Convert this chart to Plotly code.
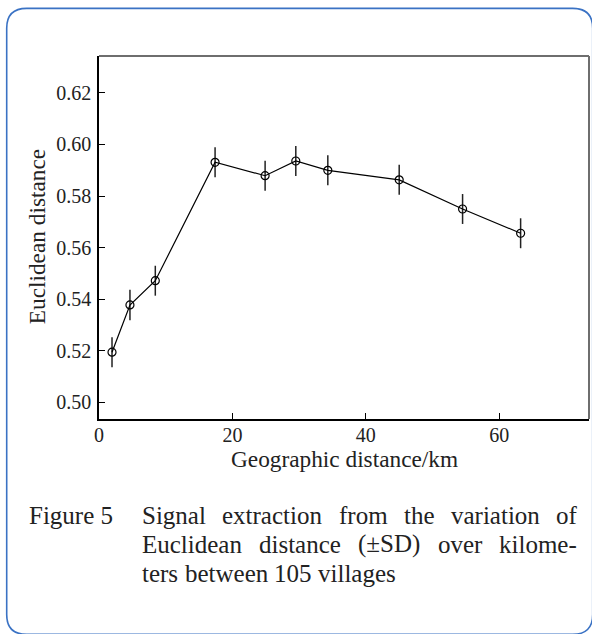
import plotly.graph_objects as go

# ---------------- data ----------------
distance_km = [1.95, 4.64, 8.44, 17.4, 24.9, 29.5, 34.3, 45.0, 54.5, 63.2]
euclid_dist = [0.5195, 0.5378, 0.5472, 0.5931, 0.5879, 0.5936, 0.5900, 0.5863, 0.5750, 0.5656]
euclid_sd = [0.0058, 0.0059, 0.0058, 0.0058, 0.0058, 0.0058, 0.0058, 0.0058, 0.0058, 0.0058]

x_ticks = [0, 20, 40, 60]
x_tick_labels = ["0", "20", "40", "60"]
y_ticks = [0.50, 0.52, 0.54, 0.56, 0.58, 0.60, 0.62]
y_tick_labels = ["0.50", "0.52", "0.54", "0.56", "0.58", "0.60", "0.62"]

x_title = "Geographic distance/km"
y_title = "Euclidean distance"
caption_label = "Figure 5"
caption_lines = [
    "Signal extraction from the variation of",
    "Euclidean distance (\u00b1SD) over kilome-",
    "ters between 105 villages",
]

# ---------------- layout geometry (pixels) ----------------
W, H = 592, 634
PL, PR, PT, PB = 99.3, 589.3, 55.7, 419.3
FONT = "Liberation Serif, Times New Roman, serif"
TXT = "#222222"


def px(xp):
    return (xp - PL) / (PR - PL)


def py(yp):
    return (PB - yp) / (PB - PT)


# Times / Liberation Serif advance widths (em)
TW = {
    'a': .444, 'b': .5, 'c': .444, 'd': .5, 'e': .444, 'f': .333, 'g': .5, 'h': .5,
    'i': .278, 'j': .278, 'k': .5, 'l': .278, 'm': .778, 'n': .5, 'o': .5, 'p': .5,
    'q': .5, 'r': .333, 's': .389, 't': .278, 'u': .5, 'v': .5, 'w': .722, 'x': .5,
    'y': .5, 'z': .444, 'E': .611, 'S': .556, 'D': .722, 'F': .556, 'G': .722,
    '(': .333, ')': .333, '\u00b1': .564, '-': .333, ' ': .25, '.': .25, '/': .278,
}


def tw(s, size):
    return sum(TW.get(ch, 0.5) for ch in s) * size


fig = go.Figure()
fig.add_trace(go.Scatter(
    x=distance_km, y=euclid_dist,
    mode="lines+markers",
    line=dict(color="black", width=1.2),
    marker=dict(symbol="circle-open", size=8, color="black", line=dict(color="black", width=1.2)),
    error_y=dict(type="data", array=euclid_sd, visible=True, color="#222222", thickness=1.5, width=0),
    showlegend=False,
))

axis_common = dict(
    showgrid=False, zeroline=False, showline=True, linecolor="black", linewidth=1.5,
    ticks="inside", ticklen=6, tickwidth=1.3, tickcolor="black",
    tickfont=dict(family=FONT, size=20, color=TXT),
    mirror=False,
)
fig.update_xaxes(range=[0, 73.45], tickvals=x_ticks, ticktext=x_tick_labels, ticklabelstandoff=-3, **axis_common)
fig.update_yaxes(range=[0.4936, 0.6343], tickvals=y_ticks, ticktext=y_tick_labels, ticklabelstandoff=2, **axis_common)

shapes = [
    dict(type="line", xref="paper", yref="paper", x0=0, x1=1, y0=1, y1=1, line=dict(color="#6e6e6e", width=2)),
    dict(type="line", xref="paper", yref="paper", x0=1, x1=1, y0=0, y1=1, line=dict(color="#6e6e6e", width=2)),
]

# rounded frame around whole figure
bx0, by0, bx1, by1, r = 7, 8, 593, 635, 20
path = (
    f"M {px(bx0 + r)} {py(by0)} L {px(bx1 - r)} {py(by0)} "
    f"Q {px(bx1)} {py(by0)} {px(bx1)} {py(by0 + r)} "
    f"L {px(bx1)} {py(by1 - r)} Q {px(bx1)} {py(by1)} {px(bx1 - r)} {py(by1)} "
    f"L {px(bx0 + r)} {py(by1)} Q {px(bx0)} {py(by1)} {px(bx0)} {py(by1 - r)} "
    f"L {px(bx0)} {py(by0 + r)} Q {px(bx0)} {py(by0)} {px(bx0 + r)} {py(by0)} Z"
)
shapes.append(dict(type="path", xref="paper", yref="paper", path=path,
                   line=dict(color="#3a72c4", width=1.6), layer="below"))

TITLE_SIZE = 23.3
annotations = [
    dict(text=x_title, xref="paper", yref="paper", x=px(344.5), y=py(459), showarrow=False,
         xanchor="center", yanchor="middle", font=dict(family=FONT, size=TITLE_SIZE, color=TXT)),
    dict(text=y_title, xref="paper", yref="paper", x=px(37.5), y=py(237), showarrow=False,
         textangle=-90, xanchor="center", yanchor="middle", font=dict(family=FONT, size=TITLE_SIZE, color=TXT)),
]

CAP_SIZE = 25
cap_left, cap_right = 141.5, 576.0
line_centers = [516, 545, 574]
annotations.append(dict(text=caption_label, xref="paper", yref="paper", x=px(27), y=py(line_centers[0]),
                        showarrow=False, xanchor="left", yanchor="middle",
                        font=dict(family=FONT, size=CAP_SIZE, color=TXT)))
for i, line in enumerate(caption_lines):
    words = line.split(" ")
    widths = [tw(w, CAP_SIZE) for w in words]
    if i < len(caption_lines) - 1 and len(words) > 1:
        gap = (cap_right - cap_left - sum(widths)) / (len(words) - 1)
    else:
        gap = tw(" ", CAP_SIZE)
    xcur = cap_left
    for w, wd in zip(words, widths):
        annotations.append(dict(text=w, xref="paper", yref="paper", x=px(xcur - 1), y=py(line_centers[i]),
                                showarrow=False, xanchor="left", yanchor="middle",
                                font=dict(family=FONT, size=CAP_SIZE, color=TXT)))
        xcur += wd + gap

fig.update_layout(
    width=W, height=H,
    margin=dict(l=PL, r=W - PR, t=PT, b=H - PB, pad=0),
    paper_bgcolor="white", plot_bgcolor="white",
    shapes=shapes, annotations=annotations,
)

fig.write_html("out.html", config={"displayModeBar": False},
               post_script="document.body.style.margin='0';document.body.style.overflow='hidden';")
